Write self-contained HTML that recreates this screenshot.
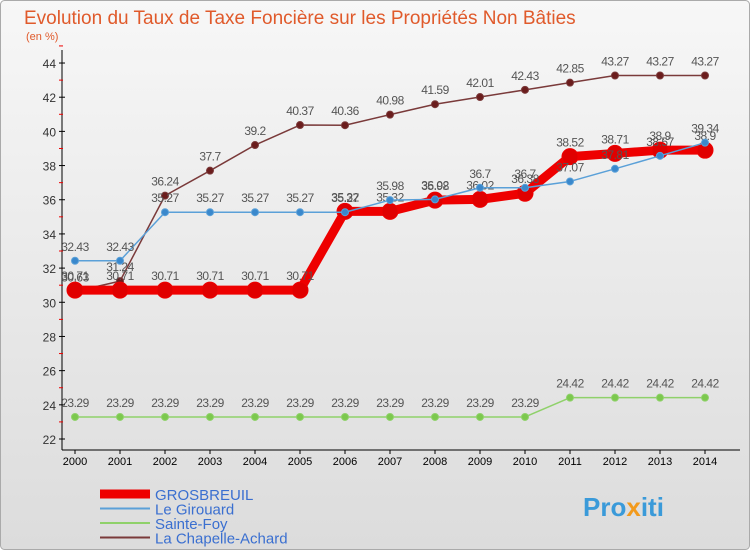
<!DOCTYPE html>
<html><head><meta charset="utf-8"><style>
body{margin:0;width:750px;height:550px;overflow:hidden;font-family:"Liberation Sans",sans-serif;}
svg text{font-family:"Liberation Sans",sans-serif;}
</style></head><body>
<svg id="chart" width="750" height="550" viewBox="0 0 750 550">
<defs>
<linearGradient id="bg" x1="0" y1="0" x2="0" y2="1"><stop offset="0" stop-color="#f7f7f7"/><stop offset="1" stop-color="#dcdcdc"/></linearGradient>
</defs>
<rect x="0.5" y="0.5" width="749" height="549" rx="4" fill="url(#bg)" stroke="#aaa"/>
<text x="24" y="24" font-size="19" fill="#e05a2b">Evolution du Taux de Taxe Foncière sur les Propriétés Non Bâties</text>
<text x="26" y="40" font-size="11" fill="#e05a2b">(en %)</text>
<g id="axes"></g>
<g id="series"></g>
<g id="legend"></g>
<text x="583" y="516" font-size="26" font-weight="bold" fill="#3a9ad9">Pro<tspan fill="#f29a1c">x</tspan>iti</text>
</svg>
<script>
const years=[2000,2001,2002,2003,2004,2005,2006,2007,2008,2009,2010,2011,2012,2013,2014];
const yTicks=[22,24,26,28,30,32,34,36,38,40,42,44];
const grosbreuil=[30.71,30.71,30.71,30.71,30.71,30.71,35.32,35.32,35.98,36.02,36.38,38.52,38.71,38.9,38.9];
const girouard=[32.43,32.43,35.27,35.27,35.27,35.27,35.27,35.98,36.02,36.7,36.7,37.07,37.81,38.57,39.34];
const sainteFoy=[23.29,23.29,23.29,23.29,23.29,23.29,23.29,23.29,23.29,23.29,23.29,24.42,24.42,24.42,24.42];
const chapelle=[30.63,31.24,36.24,37.7,39.2,40.37,40.36,40.98,41.59,42.01,42.43,42.85,43.27,43.27,43.27];
const seriesNames=["GROSBREUIL","Le Girouard","Sainte-Foy","La Chapelle-Achard"];
const NS="http://www.w3.org/2000/svg";
const X=i=>75+i*45;
const Y=v=>439-(v-22)*17.09;
function mk(tag,attrs,parent){const e=document.createElementNS(NS,tag);for(const k in attrs)e.setAttribute(k,attrs[k]);parent.appendChild(e);return e;}
const axes=document.getElementById('axes');
let a=mk('line',{x1:62,y1:50,x2:62,y2:450,stroke:'#000'},axes);


a=mk('line',{x1:62,y1:450,x2:740,y2:450,stroke:'#000'},axes);


yTicks.forEach(t=>{
 mk('line',{x1:59,x2:65,y1:Y(t),y2:Y(t),stroke:'#000'},axes);
 mk('line',{x1:59,x2:63,y1:Y(t+1),y2:Y(t+1),stroke:'#e00'},axes);
 const tx=mk('text',{x:56,y:Y(t)+5,'font-size':12,'text-anchor':'end',fill:'#333'},axes);
 tx.textContent=t;
 
 
});
years.forEach((y,i)=>{
 mk('line',{x1:X(i),x2:X(i),y1:450,y2:454,stroke:'#000'},axes);
 const tx=mk('text',{x:X(i),y:465,'font-size':11,'text-anchor':'middle',fill:'#000'},axes);
 tx.textContent=y;
 
 
});
const sg=document.getElementById('series');
function draw(data,color,dot,lw,r,name){
 const g=mk('g',{},sg);
 
 
 mk('polyline',{points:data.map((v,i)=>X(i)+','+Y(v)).join(' '),fill:'none',stroke:color,'stroke-width':lw,'stroke-linejoin':'round'},g);
 data.forEach((v,i)=>{
  const c=mk('circle',{cx:X(i),cy:Y(v),r:r,fill:dot,stroke:color,'stroke-width':1},g);
  
  
  const t=mk('text',{x:X(i),y:Y(v)-10,'font-size':12,'text-anchor':'middle',fill:'#555','letter-spacing':'-0.5'},g);
  t.textContent=v;
  
  
 });
}
draw(sainteFoy,'#8fd16a','#7cc84e',1.5,3.5,'sainte-foy');
draw(chapelle,'#7a3a3a','#6b1d1d',1.5,3.5,'la-chapelle-achard');
draw(grosbreuil,'#ee0000','#e00000',9,8,'grosbreuil');
draw(girouard,'#5aa0d8','#3a88cc',1.5,3.5,'le-girouard');
const lg=document.getElementById('legend');
const lc=[['#ee0000',9],['#5aa0d8',2],['#8fd16a',2],['#7a3a3a',2]];
seriesNames.forEach((n,i)=>{
 const yy=494+i*14.5;
 const g=mk('g',{},lg);
 
 
 mk('line',{x1:100,x2:150,y1:yy,y2:yy,stroke:lc[i][0],'stroke-width':lc[i][1]},g);
 const t=mk('text',{x:155,y:yy+6,'font-size':15,fill:'#3a6fd0'},g);
 t.textContent=n;
});
</script>
</body></html>
